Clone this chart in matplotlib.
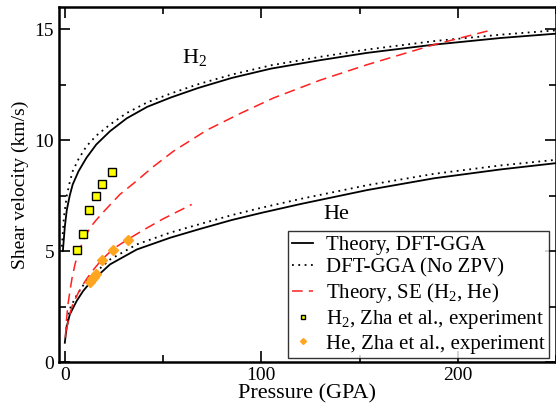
import numpy as np
import matplotlib as mpl
mpl.use('Agg')
import matplotlib.pyplot as plt
from matplotlib.ticker import MultipleLocator

plt.rcParams['font.family'] = ['Liberation Serif', 'DejaVu Serif']
plt.rcParams['mathtext.fontset'] = 'custom'
plt.rcParams['mathtext.rm'] = 'Liberation Serif'
plt.rcParams['mathtext.it'] = 'Liberation Serif:italic'

# H2, DFT-GGA
h2P = [-1.0, 0.0, 1.0, 2.5, 4.0, 7.0, 11.0, 16.0, 23.0, 31.5, 42.0, 54.0, 68.0, 85.0,
       105.0, 130.0, 154.0, 188.0, 222.0, 251.0]
h2V = [5.0, 6.1, 6.85, 7.5, 8.0, 8.6, 9.2, 9.8, 10.4, 10.98, 11.5, 11.92, 12.35, 12.8,
       13.22, 13.6, 13.93, 14.3, 14.6, 14.8]
# H2, DFT-GGA no ZPV
h2nP = [-1.5, -0.5, 1.0, 2.5, 4.0, 7.0, 11.0, 16.0, 23.0, 31.5, 42.0, 54.0, 68.0, 85.0,
        105.0, 130.0, 154.0, 188.0, 222.0, 251.0]
h2nV = [5.2, 6.5, 7.5, 8.1, 8.6, 9.15, 9.72, 10.2, 10.7, 11.22, 11.7, 12.1, 12.52, 12.95,
        13.37, 13.75, 14.08, 14.46, 14.75, 14.95]
# He, DFT-GGA
heP = [0.0, 0.85, 2.55, 6.0, 9.3, 12.8, 23.0, 36.6, 53.6, 68.9, 85.0, 100.0, 120.0,
       154.0, 188.0, 222.0, 251.0]
heV = [0.87, 1.55, 2.15, 2.75, 3.2, 3.57, 4.4, 5.07, 5.6, 6.0, 6.4, 6.72, 7.12,
       7.75, 8.28, 8.68, 8.97]
# He, DFT-GGA no ZPV
henP = [0.5, 1.5, 3.0, 6.0, 9.3, 12.8, 23.0, 36.6, 53.6, 68.9, 85.0, 100.0, 120.0,
        154.0, 188.0, 222.0, 251.0]
henV = [1.3, 2.0, 2.5, 3.0, 3.45, 3.82, 4.62, 5.3, 5.83, 6.22, 6.62, 6.95, 7.35,
        7.97, 8.48, 8.86, 9.12]
# SE curves
seH2P = [0.3, 0.8, 1.6, 2.6, 3.8, 5.3, 7.2, 9.8, 12.8, 16.0, 19.5, 28.0, 35.7, 45.0,
         55.3, 72.3, 89.3, 106.3, 130.0, 154.0, 188.0, 216.8]
seH2V = [1.1, 1.85, 2.6, 3.2, 3.85, 4.45, 5.0, 5.55, 6.05, 6.4, 6.75, 7.55, 8.1, 8.8,
         9.5, 10.45, 11.2, 11.9, 12.7, 13.4, 14.3, 14.95]
seHeP = [0.8, 2.0, 4.0, 7.0, 10.0, 13.5, 18.7, 24.6, 32.5, 40.0, 50.0, 64.6]
seHeV = [1.4, 2.0, 2.6, 3.15, 3.6, 4.05, 4.6, 5.1, 5.55, 5.95, 6.45, 7.1]
# experiments (Zha et al.)
expH2P = [6.3, 9.0, 12.4, 16.0, 19.1, 23.8]
expH2V = [5.03, 5.75, 6.86, 7.5, 8.0, 8.54]
expHeP = [12.8, 13.8, 14.8, 15.8, 18.7, 24.7, 32.3]
expHeV = [3.6, 3.75, 3.85, 3.95, 4.6, 5.07, 5.5]

fig = plt.figure(figsize=(5.56, 4.05), dpi=100)
axs = fig.add_axes([0.106, 0.106, 0.894, 0.877])

axs.plot(h2P, h2V, '-k', lw=1.3, label='Theory, DFT-GGA')
axs.plot(heP, heV, '-k', lw=1.3)
axs.plot(h2nP, h2nV, color='k', ls=(0, (1, 2.5)), lw=1.3, label='DFT-GGA (No ZPV)')
axs.plot(henP, henV, color='k', ls=(0, (1, 2.5)), lw=1.3)
axs.plot(seH2P, seH2V, color='#ff2020', ls=(0, (7, 4)), lw=1.1, label=r'Theory, SE (H$_2$, He)')
axs.plot(seHeP, seHeV, color='#ff2020', ls=(0, (7, 4)), lw=1.1)
axs.plot(expH2P, expH2V, 's', ms=6, mfc='#ffff00', mec='k', mew=1.0, ls='none',
         label=r'H$_2$, Zha et al., experiment')
axs.plot(expHeP, expHeV, 'D', ms=5, mfc='#ffa520', mec='#ffa520', ls='none',
         label='He, Zha et al., experiment')

axs.text(66, 13.7, r'H$_2$', fontsize=16, ha='center', va='center')
axs.text(138, 6.65, 'He', fontsize=16, ha='center', va='center')

axs.set_xlim(-3, 250)
axs.set_ylim(0, 16)
axs.xaxis.set_major_locator(MultipleLocator(100))
axs.xaxis.set_minor_locator(MultipleLocator(50))
axs.yaxis.set_major_locator(MultipleLocator(5))
axs.yaxis.set_minor_locator(MultipleLocator(2.5))
axs.tick_params(which='both', direction='in', top=True, right=True, labelsize=14, width=1.2)
axs.tick_params(which='major', length=8)
axs.tick_params(which='minor', length=5)
for sp in axs.spines.values():
    sp.set_linewidth(1.8)

axs.set_xlabel('Pressure (GPA)', fontsize=16, labelpad=0)
axs.set_ylabel('Shear velocity (km/s)', fontsize=14, labelpad=4)

leg = axs.legend(loc='lower right', bbox_to_anchor=(0.985, 0.012), fontsize=15, frameon=True,
                 fancybox=False, edgecolor='k', handlelength=1.0, handletextpad=0.6,
                 labelspacing=0.15, borderpad=0.2, borderaxespad=0.0, markerscale=0.6)
leg.get_frame().set_linewidth(1.0)

plt.savefig('out.png', dpi=100)
